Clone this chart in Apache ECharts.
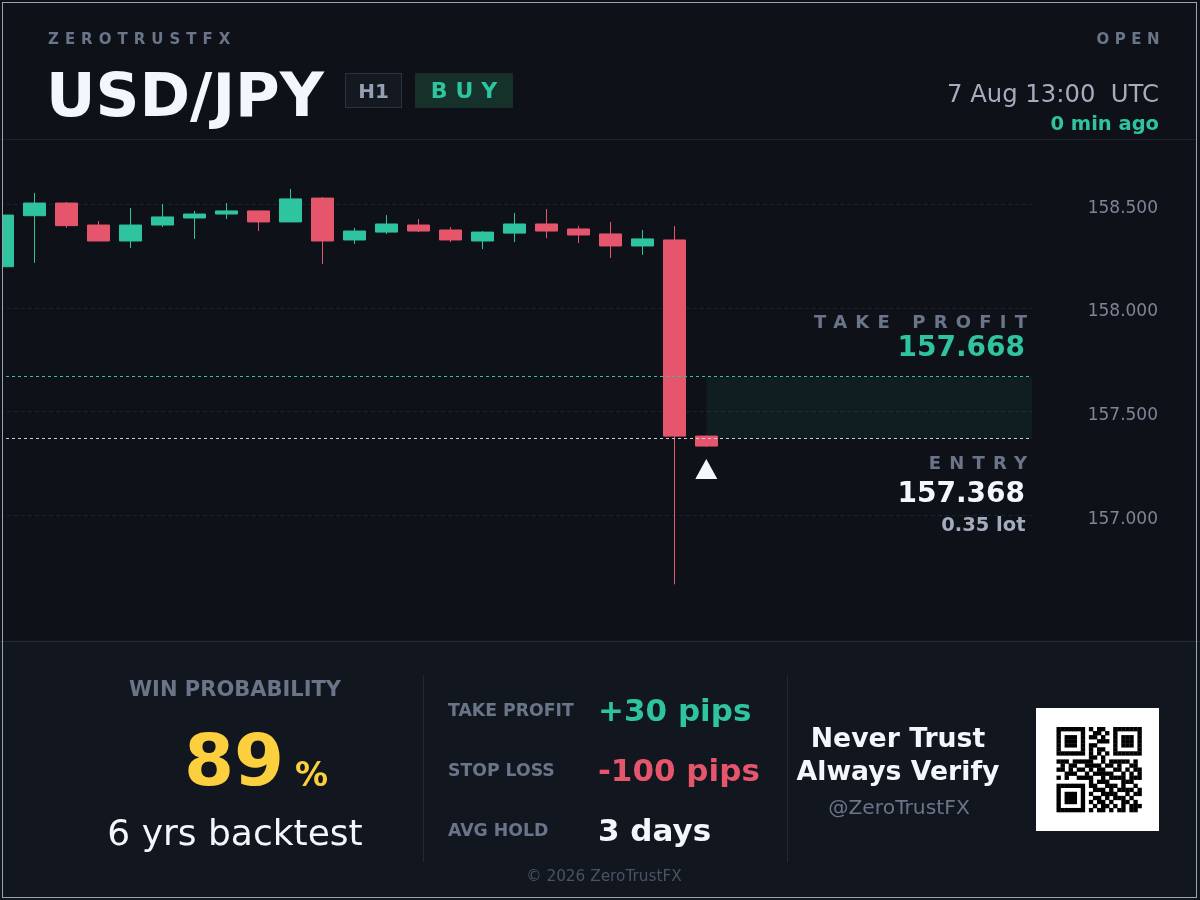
<!DOCTYPE html>
<html>
<head>
<meta charset="utf-8">
<title>USD/JPY signal</title>
<script src="https://cdn.jsdelivr.net/npm/echarts@6/dist/echarts.min.js"></script>
<style>
html, body { margin: 0; padding: 0; background: #0e1118; }
body { width: 1200px; height: 900px; position: relative; overflow: hidden; font-family: "DejaVu Sans", Verdana, sans-serif; }
.t { position: absolute; white-space: pre; line-height: 0; z-index: 3; }
.b { font-weight: bold; }
.lbl { color: #6b7589; }
#chart { position: absolute; left: 0; top: 0; width: 1200px; height: 900px; z-index: 2; }
#panel { position: absolute; left: 0; top: 641px; width: 1200px; height: 258px; background: #12161f; border-top: 1px solid #262b38; z-index: 1; }
#sep { position: absolute; left: 0; top: 139px; width: 1196px; height: 1px; background: #1d222d; z-index: 1; }
.vdiv { position: absolute; top: 675px; width: 1px; height: 187px; background: #232835; z-index: 3; }
.box { position: absolute; top: 73px; height: 35px; box-sizing: border-box; display: flex; align-items: center; justify-content: center; font-weight: bold; z-index: 3; }
#frame { position: absolute; left: 2px; top: 2px; width: 1195px; height: 896px; box-sizing: border-box; border: 1px solid #9aa3b4; z-index: 10; pointer-events: none; }
#mask { position: absolute; left: 0; top: 140px; width: 2px; height: 501px; background: #0e1118; z-index: 9; }
</style>
</head>
<body>
<div id="sep"></div>
<div id="panel"></div>
<div id="chart"></div>

<!-- 头部 -->
<div class="t b lbl" style="left:48px;top:39px;font-size:15px;letter-spacing:6px;">ZEROTRUSTFX</div>
<div class="t b lbl" style="right:35px;top:39px;font-size:15px;letter-spacing:5.5px;">OPEN</div>
<div class="t b" id="pair" style="left:46px;top:95px;font-size:61px;color:#f3f6fb;"></div>
<div class="box" id="tf" style="left:345px;width:57px;border:1px solid #2b3140;background:#141821;color:#95a0b4;font-size:20px;"></div>
<div class="box" id="side" style="left:415px;width:98px;background:#16302a;color:#2ec4a0;font-size:22px;letter-spacing:8px;padding-left:8px;"></div>
<div class="t" style="right:41px;top:94px;font-size:24.3px;color:#a4adbd;">7 Aug 13:00  UTC</div>
<div class="t b" style="right:41px;top:123.5px;font-size:19.5px;color:#2ec4a0;">0 min ago</div>

<!-- 图上标注 -->
<div class="t b lbl" style="right:164.8px;top:322px;font-size:18px;letter-spacing:8.2px;">TAKE PROFIT</div>
<div class="t b" id="tpText" style="right:175px;top:347px;font-size:28px;color:#2ec4a0;"></div>
<div class="t b lbl" style="right:164.8px;top:463px;font-size:18px;letter-spacing:8.2px;">ENTRY</div>
<div class="t b" id="entryText" style="right:175px;top:492.5px;font-size:28px;color:#f3f6fb;"></div>
<div class="t b" id="lotText" style="right:174.5px;top:525px;font-size:19.5px;color:#a3acbc;"></div>

<!-- 底部面板 -->
<div class="t b lbl" style="left:35px;width:400px;text-align:center;top:689px;font-size:21px;">WIN PROBABILITY</div>
<div class="t b" id="winText" style="left:134px;width:200px;text-align:center;top:760px;font-size:72px;color:#fccf3e;"></div>
<div class="t b" style="left:295px;top:775px;font-size:33px;color:#fccf3e;">%</div>
<div class="t" id="yrsText" style="left:35px;width:400px;text-align:center;top:833px;font-size:36px;color:#f3f6fb;"></div>
<div class="vdiv" style="left:423px;"></div>
<div class="t b lbl" style="left:448px;top:710px;font-size:17.3px;">TAKE PROFIT</div>
<div class="t b lbl" style="left:448px;top:770px;font-size:17.3px;">STOP LOSS</div>
<div class="t b lbl" style="left:448px;top:830px;font-size:17.3px;">AVG HOLD</div>
<div class="t b" id="tpPips" style="left:598px;top:710px;font-size:31px;color:#2ec4a0;"></div>
<div class="t b" id="slPips" style="left:598px;top:770px;font-size:31px;color:#e5566d;"></div>
<div class="t b" id="holdText" style="left:598px;top:830px;font-size:31px;color:#f3f6fb;"></div>
<div class="vdiv" style="left:787px;"></div>
<div class="t b" style="left:748px;width:300px;text-align:center;top:737.5px;font-size:26.7px;color:#f3f6fb;">Never Trust</div>
<div class="t b" style="left:748px;width:300px;text-align:center;top:771px;font-size:26.7px;color:#f3f6fb;">Always Verify</div>
<div class="t" style="left:749px;width:300px;text-align:center;top:807px;font-size:20.3px;color:#6b7589;">@ZeroTrustFX</div>
<div class="t" style="left:454px;width:300px;text-align:center;top:876px;font-size:15.3px;color:#4b5363;">© 2026 ZeroTrustFX</div>

<div id="mask"></div>
<div id="frame"></div>

<script>
// 数据
var pair = 'USD/JPY';
var timeframe = 'H1';
var side = 'BUY';
var opens  = [158.199, 158.445, 158.506, 158.400, 158.323, 158.400, 158.434, 158.453, 158.468, 158.415, 158.530, 158.328,
              158.366, 158.400, 158.376, 158.323, 158.361, 158.405, 158.381, 158.357, 158.299, 158.328, 157.382];
var closes = [158.448, 158.506, 158.397, 158.323, 158.400, 158.439, 158.453, 158.468, 158.415, 158.526, 158.323, 158.371,
              158.405, 158.371, 158.328, 158.366, 158.405, 158.371, 158.352, 158.299, 158.333, 157.382, 157.334];
var lows   = [158.180, 158.218, 158.387, 158.323, 158.289, 158.390, 158.333, 158.429, 158.371, 158.415, 158.212, 158.309,
              158.357, 158.366, 158.318, 158.284, 158.318, 158.337, 158.313, 158.241, 158.256, 156.667, 157.330];
var highs  = [158.460, 158.555, 158.511, 158.419, 158.482, 158.501, 158.468, 158.506, 158.468, 158.574, 158.535, 158.386,
              158.448, 158.429, 158.390, 158.371, 158.458, 158.477, 158.395, 158.415, 158.376, 158.395, 157.385];
var priceTicks = [157.0, 157.5, 158.0, 158.5];
var takeProfit = 157.668;
var entryPrice = 157.368;
var lotSize = 0.35;
var winProb = 89;
var backtestYears = 6;
var tpPips = 30;
var slPips = 100;
var holdDays = 3;
// 二维码
var qrRows = [
	'111111101011001111111',
	'100000100110101000001',
	'101110101101001011101',
	'101110100011101011101',
	'101110101100001011101',
	'100000101011001000001',
	'111111101010101111111',
	'000000001101000000000',
	'111011111001011111010',
	'010110011110110100110',
	'110101101011001101011',
	'001110010111110010101',
	'101001111001011110111',
	'000000001011100011100',
	'111111101100111010010',
	'100000100111010111101',
	'101110101001111001011',
	'101110100110101110100',
	'101110101011010011010',
	'100000100101101010111',
	'111111101011010110110'
];

(function() {
	var green = '#2ec4a0', red = '#e5566d';

	document.getElementById('pair').textContent = pair;
	document.getElementById('tf').textContent = timeframe;
	document.getElementById('side').textContent = side;
	document.getElementById('tpText').textContent = takeProfit.toFixed(3);
	document.getElementById('entryText').textContent = entryPrice.toFixed(3);
	document.getElementById('lotText').textContent = lotSize.toFixed(2) + ' lot';
	document.getElementById('winText').textContent = winProb;
	document.getElementById('yrsText').textContent = backtestYears + ' yrs backtest';
	document.getElementById('tpPips').textContent = '+' + tpPips + ' pips';
	document.getElementById('slPips').textContent = '-' + slPips + ' pips';
	document.getElementById('holdText').textContent = holdDays + ' days';

	var candles = opens.map(function(o, i) {
		return [i, o, closes[i], lows[i], highs[i]];
	});
	var last = candles.length - 1;
	var xMin = -0.072, xMax = 32.178;

	//二维码图形
	var qrEls = [{
		type: 'rect',
		shape: { x: 1036, y: 708, width: 123, height: 123 },
		style: { fill: '#ffffff' }
	}];
	var mod = 85 / 21;
	qrRows.forEach(function(row, r) {
		for(var c = 0; c < row.length; c++) {
			if(row.charAt(c) === '1') {
				qrEls.push({
					type: 'rect',
					shape: { x: 1056.5 + c * mod, y: 727 + r * mod, width: mod + 0.3, height: mod + 0.3 },
					style: { fill: '#000000' }
				});
			}
		}
	});

	var chart = echarts.init(document.getElementById('chart'), null, { renderer: 'canvas' });
	var option = {
		animation: false,
		backgroundColor: 'transparent',
		grid: {
			left: 0,
			top: 204.3,
			width: 1032,
			height: 311
		},
		xAxis: {
			type: 'value',
			min: xMin,
			max: xMax,
			show: false,
			splitLine: { show: false }
		},
		yAxis: {
			type: 'value',
			position: 'right',
			min: priceTicks[0],
			max: priceTicks[priceTicks.length - 1],
			interval: priceTicks[1] - priceTicks[0],
			axisLine: { show: false },
			axisTick: { show: false },
			axisLabel: {
				align: 'right',
				verticalAlign: 'top',
				lineHeight: 8,
				margin: 126,
				color: '#7d8597',
				fontSize: 17,
				fontFamily: 'DejaVu Sans',
				formatter: function(v) { return v.toFixed(3); }
			},
			splitLine: {
				lineStyle: { color: '#1d2230', type: [4, 3], width: 1 }
			}
		},
		graphic: { elements: qrEls },
		series: [{
			type: 'candlestick',
			data: candles,
			clip: false,
			barWidth: 22,
			itemStyle: {
				color: green,
				color0: red,
				borderColor: green,
				borderColor0: red,
				borderWidth: 1
			},
			markArea: {
				silent: true,
				itemStyle: { color: 'rgba(46,196,160,0.07)' },
				data: [[{ xAxis: last, yAxis: entryPrice }, { xAxis: xMax, yAxis: takeProfit }]]
			},
			markLine: {
				silent: true,
				symbol: 'none',
				label: { show: false },
				data: [
					{ yAxis: takeProfit, lineStyle: { color: green, type: [3, 3], width: 1 } },
					{ yAxis: entryPrice, lineStyle: { color: '#c9ced8', type: [3, 3], width: 1 } }
				]
			},
			markPoint: {
				silent: true,
				label: { show: false },
				data: [{
					coord: [last, entryPrice],
					symbol: 'triangle',
					symbolSize: [22, 20],
					symbolOffset: [0, 30],
					itemStyle: { color: '#f3f6fb' }
				}]
			}
		}]
	};
	chart.setOption(option);
})();
</script>
</body>
</html>
